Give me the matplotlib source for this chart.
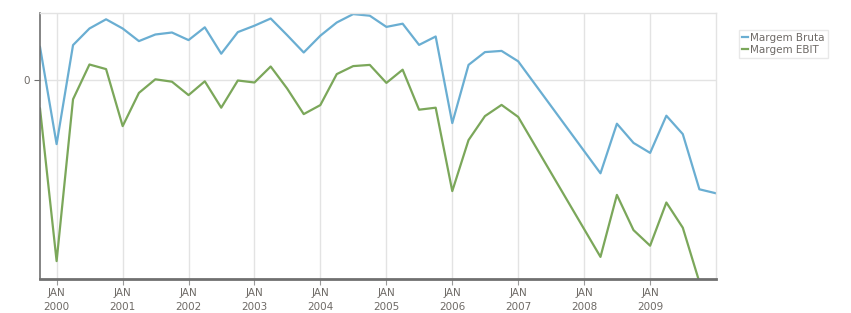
import numpy as np
import matplotlib
matplotlib.use("Agg")
from matplotlib import pyplot as plt
import matplotlib.dates as mdates
from datetime import date

# trimestres (falta 2007-04 .. 2008-01 na serie original)
trimestres = [
    "1999-10", "2000-01", "2000-04", "2000-07", "2000-10",
    "2001-01", "2001-04", "2001-07", "2001-10",
    "2002-01", "2002-04", "2002-07", "2002-10",
    "2003-01", "2003-04", "2003-07", "2003-10",
    "2004-01", "2004-04", "2004-07", "2004-10",
    "2005-01", "2005-04", "2005-07", "2005-10",
    "2006-01", "2006-04", "2006-07", "2006-10",
    "2007-01", "2008-04", "2008-07", "2008-10",
    "2009-01", "2009-04", "2009-07", "2009-10", "2010-01",
]

margem_bruta = [
    8.3, -16.0, 8.75, 12.9, 15.2,
    12.9, 9.75, 11.4, 11.9,
    10.0, 13.2, 6.6, 12.0,
    13.6, 15.4, 11.25, 6.9,
    11.1, 14.4, 16.5, 16.1,
    13.3, 14.1, 8.8, 10.9,
    -10.75, 3.8, 7.0, 7.3,
    4.7, -23.3, -10.9, -15.7,
    -18.2, -8.9, -13.5, -27.3, -28.3,
]

margem_ebit = [
    -7.1, -45.25, -4.8, 3.9, 2.75,
    -11.5, -3.2, 0.2, -0.4,
    -3.75, -0.3, -6.9, -0.1,
    -0.6, 3.4, -2.1, -8.5,
    -6.25, 1.5, 3.5, 3.8,
    -0.7, 2.6, -7.4, -6.9,
    -27.75, -15.0, -9.0, -6.2,
    -9.2, -44.2, -28.7, -37.5,
    -41.4, -30.6, -36.9, -50.5, -58.0,
]

datas = [date(int(t[:4]), int(t[5:]), 1) for t in trimestres]
anos = list(range(2000, 2010))

texto = "#6e6a66"

fig = plt.figure(figsize=(8.51, 3.13), dpi=100)
ax = fig.add_axes([40 / 851, (313 - 279.3) / 313, 676 / 851, 266 / 313])

ax.plot(datas, margem_bruta, color="#6aaed2", lw=1.6, label="Margem Bruta")
ax.plot(datas, margem_ebit, color="#7ba75a", lw=1.6, label="Margem EBIT")

ax.set_xlim(date(1999, 10, 1), date(2010, 1, 1))
ax.set_ylim(-49.8, 16.7)

ax.set_xticks([date(a, 1, 1) for a in anos])
ax.set_xticklabels(["JAN\n%d" % a for a in anos])
ax.set_yticks([0])
ax.set_yticklabels(["0"])

ax.grid(True, color="#e3e3e3", lw=1)
ax.set_axisbelow(True)

for lado in ["top", "right"]:
    ax.spines[lado].set_color("#e3e3e3")
    ax.spines[lado].set_linewidth(1)
ax.spines["left"].set_color("#707070")
ax.spines["left"].set_linewidth(1.2)
ax.spines["bottom"].set_color("#707070")
ax.spines["bottom"].set_linewidth(2)

ax.tick_params(axis="x", colors="#9a9a9a", labelcolor=texto, labelsize=7.5, length=4, pad=2)
ax.tick_params(axis="y", colors="#707070", labelcolor=texto, labelsize=7.5, length=4, pad=3)
for lbl in ax.get_xticklabels():
    lbl.set_linespacing(1.5)

leg = fig.legend(loc="upper left", bbox_to_anchor=(739 / 851, 1 - 30 / 313),
                 fontsize=7.5, handlelength=0.6, handletextpad=0.2,
                 borderpad=0.3, labelspacing=0.15, fancybox=False,
                 frameon=True, borderaxespad=0)
leg.get_frame().set_edgecolor("#e3e3e3")
leg.get_frame().set_linewidth(1)
for t in leg.get_texts():
    t.set_color(texto)

fig.savefig("out.png", dpi=100)
